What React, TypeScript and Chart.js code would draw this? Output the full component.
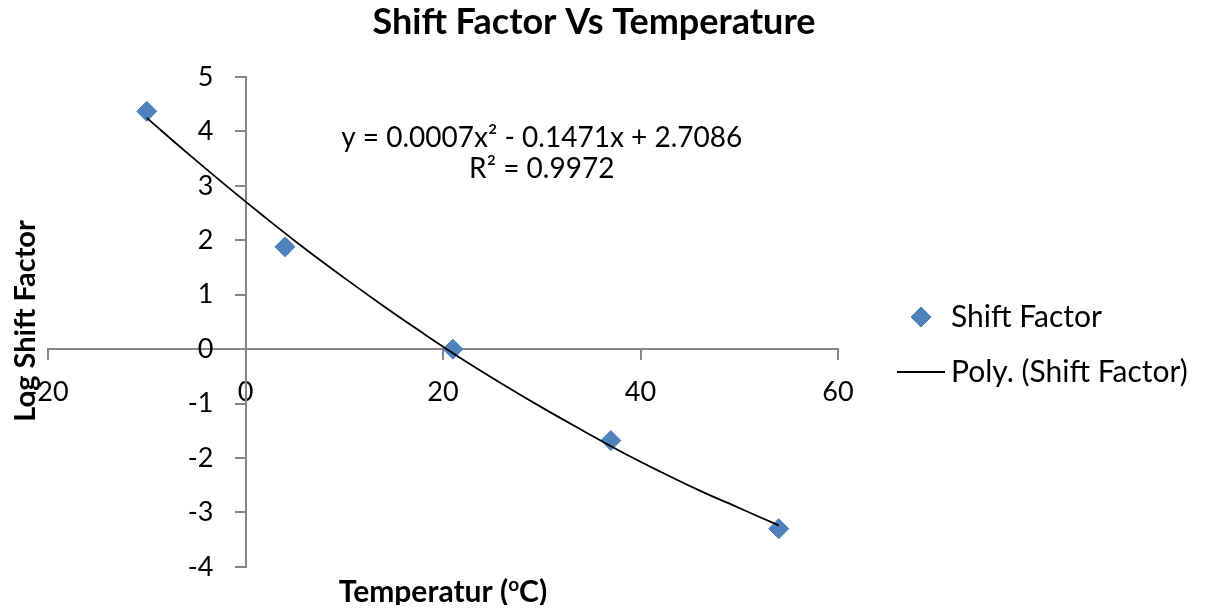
import { useEffect, useRef } from "react";
import { Chart, registerables } from "chart.js";

Chart.register(...registerables);

// ---------- data ----------
const chartTitle = "Shift Factor Vs Temperature";
const yAxisTitle = "Log Shift Factor";
const xAxisTitleParts = ["Temperatur (", "o", "C)"];
const seriesLabel = "Shift Factor";
const trendLabel = "Poly. (Shift Factor)";

const temperatures = [-10, 4, 21, 37, 54];
const logShiftFactors = [4.37, 1.88, 0.0, -1.68, -3.3];

// polynomial trendline
const trendTemperatures = [-10, -6, -2, 2, 6, 10, 14, 18, 22, 26, 30, 34, 38, 42, 46, 50, 54];
const trendLogShiftFactors = [4.25, 3.62, 3.01, 2.42, 1.85, 1.31, 0.79, 0.29, -0.19, -0.64, -1.07, -1.48, -1.88, -2.25, -2.6, -2.92, -3.24];

const xTickValues = [-20, 0, 20, 40, 60];
const yTickValues = [-4, -3, -2, -1, 0, 1, 2, 3, 4, 5];

const equationLines = ["y = 0.0007x\u00B2 - 0.1471x + 2.7086", "R\u00B2 = 0.9972"];

// ---------- style ----------
const FONT = "Lato, 'Liberation Sans', sans-serif";
const TICK_FS = 27;
const LEGEND_FS = 30;
const TEXT_FS = 28;
const Y_TITLE_FS = 29;
const X_TITLE_FS = 30;
const TITLE_FS = 36;
const AXIS_COLOR = "#868686";
const SERIES_COLOR = "#4f81bd";
const SERIES_BORDER = "#4a7ebb";

const CANVAS_W = 1196;
const CANVAS_H = 597;
const LEGEND_PAD = 25;
const LEGEND_BOX_W = 30;
const LEGEND_SYMBOL_CENTER = 913;
const LEGEND_LEFT = LEGEND_SYMBOL_CENTER - LEGEND_BOX_W / 2 - LEGEND_PAD;
const PLOT_RIGHT = 830;
const TITLE_CENTER = 586;

function makeDiamond(): HTMLCanvasElement {
  const c = document.createElement("canvas");
  c.width = 22;
  c.height = 22;
  const g = c.getContext("2d")!;
  g.beginPath();
  g.moveTo(11, 1);
  g.lineTo(21, 11);
  g.lineTo(11, 21);
  g.lineTo(1, 11);
  g.closePath();
  g.fillStyle = SERIES_COLOR;
  g.fill();
  g.strokeStyle = SERIES_BORDER;
  g.lineWidth = 1;
  g.stroke();
  return c;
}

function makeLineSymbol(): HTMLCanvasElement {
  const c = document.createElement("canvas");
  c.width = 48;
  c.height = 2;
  const g = c.getContext("2d")!;
  g.fillStyle = "#000";
  g.fillRect(0, 0, 48, 2);
  return c;
}

const textPlugin = {
  id: "excelTexts",
  afterLayout(chart: any) {
    // centre the title over plot + legend like the original
    const t = chart.titleBlock;
    if (t) {
      const half = Math.min(TITLE_CENTER, CANVAS_W - TITLE_CENTER);
      t.left = TITLE_CENTER - half;
      t.right = TITLE_CENTER + half;
    }
  },
  beforeDraw(chart: any) {
    // put the y tick labels left of the tick marks of the crossing axis
    const s = chart.scales.y;
    const axisX = chart.scales.x.getPixelForValue(0);
    const shift = s.options.grid.tickLength + s.options.ticks.padding;
    const items = s.getLabelItems();
    items.forEach((it: any) => {
      it.options.translation[0] = axisX - shift;
      it.options.textAlign = "right";
    });
  },
  afterDraw(chart: any) {
    const { ctx, chartArea, scales } = chart;
    ctx.save();
    ctx.fillStyle = "#000";
    // trendline equation
    ctx.font = `${TEXT_FS}px ${FONT}`;
    ctx.textAlign = "center";
    ctx.textBaseline = "alphabetic";
    const ex = scales.x.getPixelForValue(30);
    ctx.fillText(equationLines[0], ex, scales.y.getPixelForValue(3.71));
    ctx.fillText(equationLines[1], ex, scales.y.getPixelForValue(3.15));

    // y axis title
    ctx.font = `bold ${Y_TITLE_FS}px ${FONT}`;
    ctx.save();
    ctx.translate(chartArea.left - 13, (chartArea.top + chartArea.bottom) / 2 - 1);
    ctx.rotate(-Math.PI / 2);
    ctx.textAlign = "center";
    ctx.fillText(yAxisTitle, 0, 0);
    ctx.restore();

    // x axis title with superscript
    const supFont = `bold ${Math.round(X_TITLE_FS * 0.62)}px ${FONT}`;
    const mainFont = `bold ${X_TITLE_FS}px ${FONT}`;
    ctx.font = mainFont;
    const w0 = ctx.measureText(xAxisTitleParts[0]).width;
    const w2 = ctx.measureText(xAxisTitleParts[2]).width;
    ctx.font = supFont;
    const w1 = ctx.measureText(xAxisTitleParts[1]).width;
    const total = w0 + w1 + w2;
    let x = (chartArea.left + chartArea.right) / 2 - total / 2;
    const baseY = CANVAS_H - 3;
    ctx.textAlign = "left";
    ctx.font = mainFont;
    ctx.fillText(xAxisTitleParts[0], x, baseY);
    x += w0;
    ctx.font = supFont;
    ctx.fillText(xAxisTitleParts[1], x, baseY - 11);
    x += w1;
    ctx.font = mainFont;
    ctx.fillText(xAxisTitleParts[2], x, baseY);
    ctx.restore();
  },
};

export default function App() {
  const ref = useRef<HTMLCanvasElement>(null);

  useEffect(() => {
    if (!ref.current) return;
    const diamond = makeDiamond();
    const lineSym = makeLineSymbol();

    const mctx = document.createElement("canvas").getContext("2d")!;
    mctx.font = `${LEGEND_FS}px ${FONT}`;
    const textW = Math.max(
      mctx.measureText(seriesLabel).width,
      mctx.measureText(trendLabel).width
    );
    const legendW = LEGEND_PAD + LEGEND_BOX_W + LEGEND_FS / 2 + textW + 10;
    const padRight = Math.max(0, CANVAS_W - LEGEND_LEFT - legendW);

    const chart = new Chart(ref.current, {
      type: "scatter",
      data: {
        datasets: [
          {
            label: seriesLabel,
            data: temperatures.map((t, i) => ({ x: t, y: logShiftFactors[i] })),
            pointStyle: "rectRot",
            pointRadius: 10,
            pointHoverRadius: 10,
            backgroundColor: SERIES_COLOR,
            borderColor: SERIES_BORDER,
            borderWidth: 1,
            showLine: false,
            order: 1,
          },
          {
            label: trendLabel,
            data: trendTemperatures.map((t, i) => ({ x: t, y: trendLogShiftFactors[i] })),
            showLine: true,
            pointRadius: 0,
            pointHoverRadius: 0,
            borderColor: "#000",
            backgroundColor: "#000",
            borderWidth: 1.8,
            tension: 0.4,
            fill: false,
            order: 0,
          },
        ],
      },
      options: {
        responsive: true,
        maintainAspectRatio: false,
        animation: false,
        layout: { padding: { left: 0, right: padRight, top: 0, bottom: 36 } },
        plugins: {
          tooltip: { enabled: false },
          title: {
            display: true,
            text: chartTitle,
            color: "#000",
            font: { family: FONT, size: TITLE_FS, weight: "bold", lineHeight: 0.78 },
            padding: { top: 0, bottom: 41 },
          },
          legend: {
            position: "right",
            fullSize: false,
            align: "center",
            maxWidth: 500,
            title: {
              display: true,
              text: " ",
              font: { size: 15, lineHeight: 1 },
              padding: { top: 15, bottom: 15 },
            },
            labels: {
              usePointStyle: true,
              pointStyleWidth: LEGEND_BOX_W,
              boxHeight: LEGEND_FS,
              padding: LEGEND_PAD,
              color: "#000",
              font: { family: FONT, size: LEGEND_FS },
              generateLabels: (c: any) => {
                const items = (Chart as any).defaults.plugins.legend.labels.generateLabels(c);
                items.sort((a: any, b: any) => a.datasetIndex - b.datasetIndex);
                return items.map((it: any) => ({
                  ...it,
                  pointStyle: it.datasetIndex === 0 ? diamond : lineSym,
                }));
              },
            },
          },
        },
        scales: {
          x: {
            type: "linear",
            position: { y: 0 } as any,
            min: -20,
            max: 60,
            afterBuildTicks: (s: any) => {
              s.ticks = xTickValues.map((v) => ({ value: v }));
            },
            grid: {
              display: true,
              drawOnChartArea: false,
              drawTicks: true,
              tickLength: 10,
              color: AXIS_COLOR,
              lineWidth: 2,
            },
            border: { display: true, color: AXIS_COLOR, width: 2 },
            ticks: {
              color: "#000",
              font: { family: FONT, size: TICK_FS },
              padding: 17,
              maxRotation: 0,
              autoSkip: false,
            },
          },
          y: {
            type: "linear",
            position: { x: 0 } as any,
            min: -4,
            max: 5,
            afterBuildTicks: (s: any) => {
              s.ticks = yTickValues.map((v) => ({ value: v }));
            },
            grid: {
              display: true,
              drawOnChartArea: false,
              drawTicks: true,
              tickLength: 10,
              color: AXIS_COLOR,
              lineWidth: 2,
            },
            border: { display: true, color: AXIS_COLOR, width: 2 },
            ticks: {
              color: "#000",
              font: { family: FONT, size: TICK_FS },
              padding: 22,
              autoSkip: false,
            },
          },
          yLeftSpacer: {
            type: "linear",
            position: "left",
            display: true,
            grid: { display: false, drawTicks: false },
            border: { display: false },
            ticks: { display: false },
            afterFit: (s: any) => {
              s.width = 40;
            },
          },
          yRightSpacer: {
            type: "linear",
            position: "right",
            display: true,
            grid: { display: false, drawTicks: false },
            border: { display: false },
            ticks: { display: false },
            afterFit: (s: any) => {
              s.width = LEGEND_LEFT - PLOT_RIGHT;
            },
          },
        },
      } as any,
      plugins: [textPlugin],
    });
    return () => chart.destroy();
  }, []);

  return (
    <div style={{ width: CANVAS_W, height: CANVAS_H, position: "relative" }}>
      <canvas ref={ref} />
    </div>
  );
}
